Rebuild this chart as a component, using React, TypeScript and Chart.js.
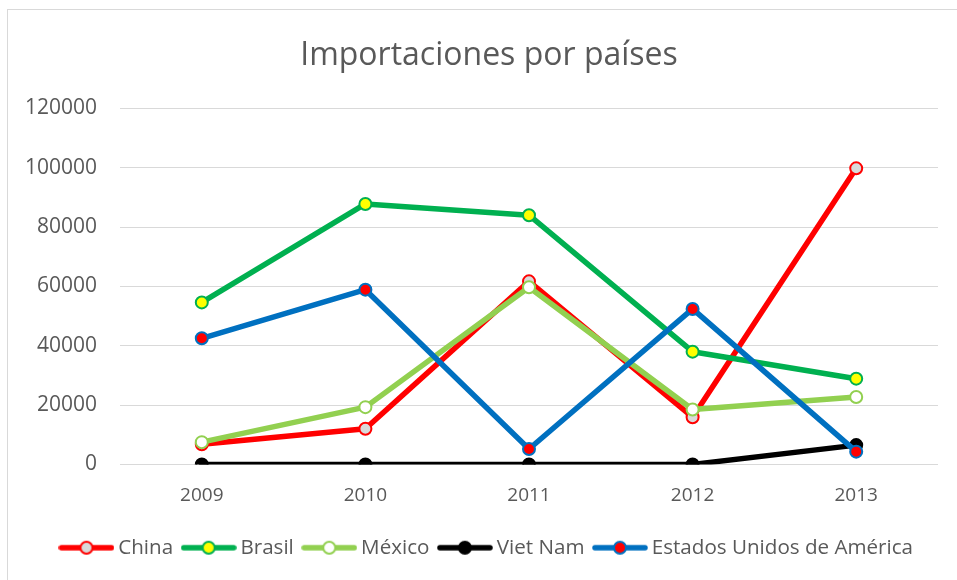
import React, { useEffect, useRef } from "react";
import { Chart, registerables } from "chart.js";

Chart.register(...registerables);

const years = ["2009", "2010", "2011", "2012", "2013"];
const china = [6800, 12000, 61700, 15900, 99800];
const brasil = [54600, 87800, 84000, 38000, 28900];
const mexico = [7500, 19300, 59700, 18500, 22700];
const vietNam = [0, 0, 0, 0, 6500];
const usa = [42500, 58900, 5200, 52400, 4300];
const yTicks = [0, 20000, 40000, 60000, 80000, 100000, 120000];

const seriesNames = ["China", "Brasil", "México", "Viet Nam", "Estados Unidos de América"];
const lineColors = ["#FF0000", "#00B050", "#92D050", "#000000", "#0070C0"];
const markerFills = ["#D9D9D9", "#FFFF00", "#FFFFFF", "#000000", "#FF0000"];
const markerBorders = ["#FF0000", "#00B050", "#92D050", "#000000", "#0070C0"];

const FONT = "'Open Sans', 'Noto Sans', sans-serif";
const TEXT = "#595959";

function legendImage(line: string, fill: string, border: string) {
  const c = document.createElement("canvas");
  c.width = 56;
  c.height = 16;
  const ctx = c.getContext("2d")!;
  ctx.strokeStyle = line;
  ctx.lineWidth = 5.5;
  ctx.lineCap = "round";
  ctx.beginPath();
  ctx.moveTo(3, 8);
  ctx.lineTo(53, 8);
  ctx.stroke();
  ctx.beginPath();
  ctx.arc(28, 8, 6, 0, Math.PI * 2);
  ctx.fillStyle = fill;
  ctx.fill();
  ctx.lineWidth = 2;
  ctx.strokeStyle = border;
  ctx.stroke();
  return c;
}

export default function App() {
  const ref = useRef<HTMLCanvasElement | null>(null);

  useEffect(() => {
    if (!ref.current) return;
    const values = [china, brasil, mexico, vietNam, usa];
    const images = seriesNames.map((_, i) => legendImage(lineColors[i], markerFills[i], markerBorders[i]));
    const chart = new Chart(ref.current, {
      type: "line",
      data: {
        labels: years,
        datasets: seriesNames.map((name, i) => ({
          label: name,
          data: values[i],
          yAxisID: "y",
          borderColor: lineColors[i],
          backgroundColor: lineColors[i],
          borderWidth: 5.5,
          pointRadius: 6,
          pointBorderWidth: 2,
          pointBackgroundColor: markerFills[i],
          pointBorderColor: markerBorders[i],
          pointHoverRadius: 6,
          tension: 0,
          order: 10 - i,
          borderJoinStyle: "round" as const,
          borderCapStyle: "round" as const,
        })),
      },
      options: {
        animation: false,
        responsive: true,
        maintainAspectRatio: false,
        layout: { padding: { left: 0, right: 0, top: 0, bottom: 32 } },
        plugins: {
          tooltip: { enabled: false },
          title: {
            display: true,
            text: "Importaciones por países",
            color: TEXT,
            font: { family: FONT, size: 32, weight: "normal" },
            padding: { top: 27, bottom: 33 },
          },
          legend: {
            position: "bottom",
            labels: {
              usePointStyle: true,
              pointStyleWidth: 43,
              padding: 14,
              color: TEXT,
              font: { family: FONT, size: 20.6 },
              generateLabels: (ch: any) =>
                ch.data.datasets.map((ds: any, i: number) => ({
                  text: ds.label,
                  pointStyle: images[i],
                  fillStyle: "transparent",
                  strokeStyle: "transparent",
                  lineWidth: 0,
                  fontColor: TEXT,
                  hidden: false,
                  datasetIndex: i,
                })),
            },
          },
        },
        scales: {
          x: {
            grid: { display: false, drawTicks: false },
            border: { display: false },
            offset: true,
            ticks: { color: TEXT, font: { family: FONT, size: 19 }, padding: 20 },
            afterFit: (s: any) => {
              s.height = 59;
            },
          },
          y: {
            min: 0,
            max: 120000,
            grid: { color: "#D9D9D9", lineWidth: 1, drawTicks: false },
            border: { display: false },
            afterBuildTicks: (s: any) => {
              s.ticks = yTicks.map((v) => ({ value: v }));
            },
            ticks: {
              color: TEXT,
              font: { family: FONT, size: 21 },
              padding: 23,
              callback: (v: any) => String(v),
            },
            afterFit: (s: any) => {
              s.width = 112;
            },
          },
          yRight: {
            position: "right",
            display: true,
            grid: { display: false, drawTicks: false },
            border: { display: false },
            ticks: { display: false },
            afterFit: (s: any) => {
              s.width = 32;
            },
          },
        },
      },
    });
    return () => chart.destroy();
  }, []);

  return (
    <div style={{ position: "fixed", left: 0, top: 0, width: 957, height: 580, overflow: "hidden", background: "#fff" }}>
      <div
        style={{
          position: "absolute",
          left: 7,
          top: 9,
          width: 962,
          height: 590,
          border: "1px solid #D9D9D9",
          background: "#fff",
        }}
      >
        <canvas ref={ref} />
      </div>
    </div>
  );
}
